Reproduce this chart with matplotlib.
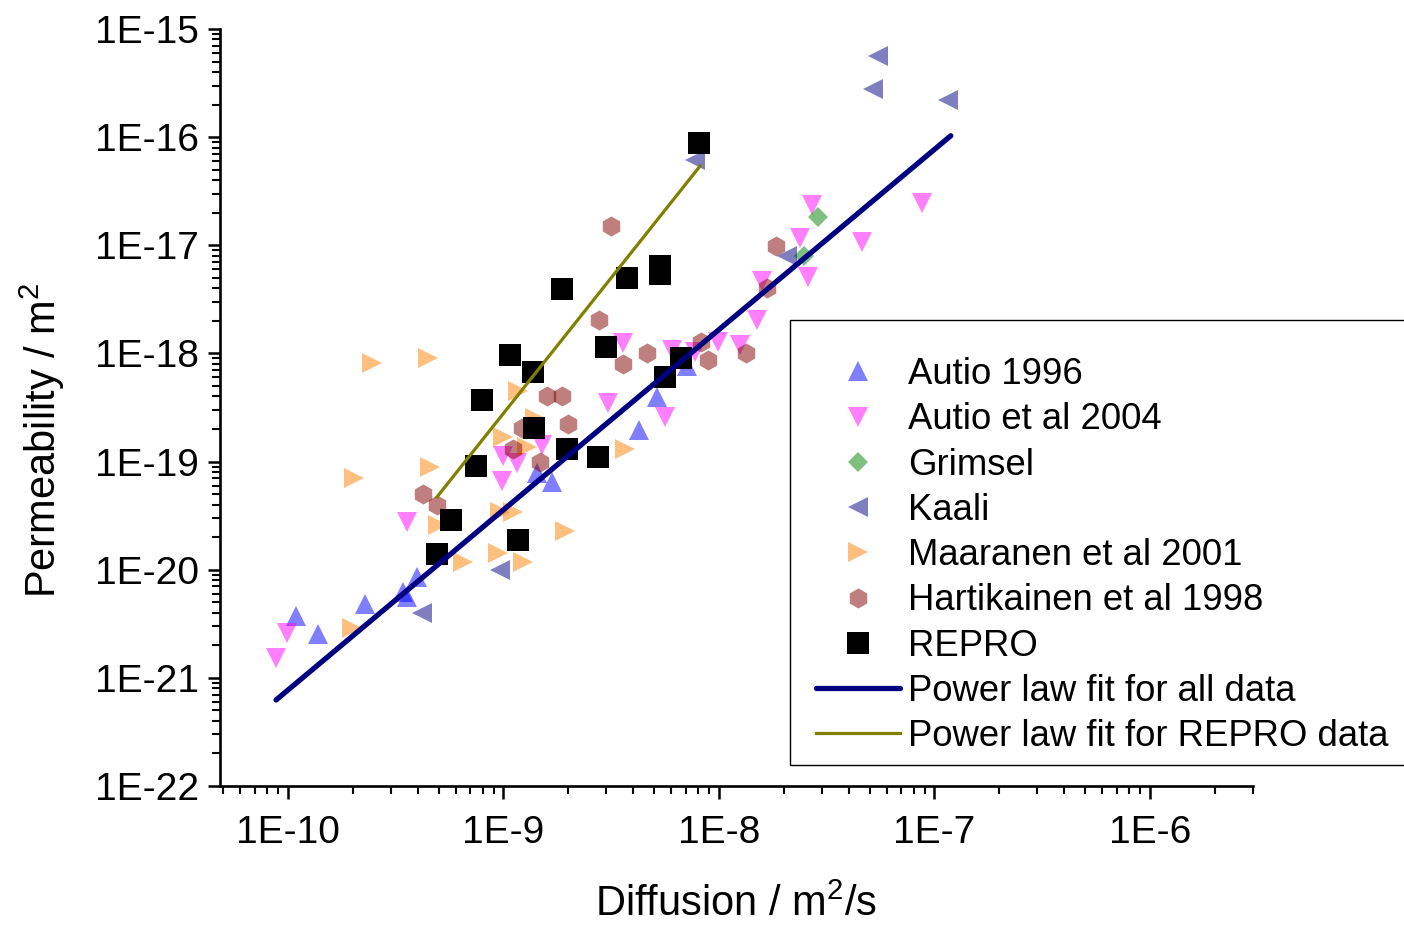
import numpy as np
import matplotlib
matplotlib.use("Agg")
import matplotlib.pyplot as plt
from matplotlib.ticker import FixedLocator, FixedFormatter, NullFormatter
from matplotlib.patches import Rectangle

plt.rcParams['font.family'] = ['Liberation Sans', 'DejaVu Sans']
plt.rcParams['mathtext.fontset'] = 'custom'
plt.rcParams['mathtext.rm'] = 'Liberation Sans'
plt.rcParams['mathtext.it'] = 'Liberation Sans:italic'
plt.rcParams['mathtext.bf'] = 'Liberation Sans:bold'

# ---------------- data ----------------
autio1996_D = [1.09e-10, 1.38e-10, 2.28e-10, 3.42e-10, 3.57e-10, 3.97e-10,
               1.43e-9, 1.68e-9, 4.25e-9, 5.16e-9, 7.11e-9]
autio1996_K = [3.73e-21, 2.54e-21, 4.82e-21, 6.22e-21, 5.60e-21, 8.55e-21,
               7.83e-20, 6.47e-20, 1.96e-19, 3.95e-19, 7.65e-19]

autio2004_D = [8.80e-11, 9.89e-11, 3.57e-10, 9.95e-10, 1.16e-9, 1.51e-9, 9.85e-10,
               3.05e-9, 5.62e-9, 3.59e-9, 6.05e-9, 9.89e-9, 1.25e-8, 1.50e-8,
               1.58e-8, 2.38e-8, 2.59e-8, 2.70e-8, 4.61e-8, 8.75e-8, 7.74e-9]
autio2004_K = [1.52e-21, 2.60e-21, 2.76e-20, 1.12e-19, 9.70e-20, 1.42e-19, 6.61e-20,
               3.48e-19, 2.58e-19, 1.25e-18, 1.08e-18, 1.28e-18, 1.20e-18, 2.04e-18,
               4.68e-18, 1.17e-17, 5.09e-18, 2.36e-17, 1.07e-17, 2.46e-17, 1.03e-18]

grimsel_D = [2.88e-8, 2.48e-8]
grimsel_K = [1.83e-17, 7.96e-18]

kaali_D = [4.19e-10, 9.63e-10, 7.74e-9, 2.07e-8, 5.18e-8, 5.47e-8, 1.16e-7]
kaali_K = [3.98e-21, 9.93e-21, 6.15e-17, 7.96e-18, 2.79e-16, 5.63e-16, 2.20e-16]

maaranen_D = [1.98e-10, 2.02e-10, 2.45e-10, 4.46e-10, 4.56e-10, 4.97e-10, 6.49e-10,
              9.42e-10, 9.63e-10, 1.11e-9, 9.95e-10, 1.17e-9, 1.23e-9, 1.29e-9,
              1.40e-9, 1.93e-9, 3.66e-9]
maaranen_K = [2.89e-21, 7.05e-20, 8.15e-19, 9.08e-19, 8.91e-20, 2.59e-20, 1.18e-20,
              1.43e-20, 3.42e-20, 3.42e-20, 1.69e-19, 4.49e-19, 1.18e-20, 1.36e-19,
              2.53e-19, 2.28e-20, 1.31e-19]

hartikainen_D = [4.23e-10, 4.91e-10, 1.11e-9, 1.22e-9, 1.48e-9, 1.59e-9, 1.87e-9,
                 1.99e-9, 2.77e-9, 3.15e-9, 3.59e-9, 4.63e-9, 8.25e-9, 8.89e-9,
                 1.33e-8, 1.67e-8, 1.84e-8]
hartikainen_K = [5.01e-20, 3.96e-20, 1.31e-19, 2.04e-19, 9.91e-20, 4.04e-19, 4.04e-19,
                 2.22e-19, 2.04e-18, 1.51e-17, 7.98e-19, 1.01e-18, 1.28e-18, 8.69e-19,
                 1.01e-18, 4.03e-18, 9.85e-18]

repro_D = [4.91e-10, 5.71e-10, 7.45e-10, 7.95e-10, 1.07e-9, 1.17e-9, 1.37e-9, 1.39e-9,
           1.87e-9, 1.97e-9, 2.75e-9, 2.99e-9, 3.74e-9, 5.32e-9, 5.32e-9, 5.62e-9,
           6.67e-9, 8.07e-9]
repro_K = [1.40e-20, 2.88e-20, 9.10e-20, 3.71e-19, 9.66e-19, 1.88e-20, 6.73e-19, 2.04e-19,
           3.94e-18, 1.31e-19, 1.10e-19, 1.15e-18, 4.98e-18, 6.43e-18, 5.42e-18, 6.05e-19,
           9.08e-19, 8.83e-17]

fit_all_D = [8.80e-11, 1.19e-7]
fit_all_K = [6.24e-22, 1.03e-16]
fit_repro_D = [4.91e-10, 8.17e-9]
fit_repro_K = [4.70e-20, 5.41e-17]

x_tick_exps = [-10, -9, -8, -7, -6]
y_tick_exps = [-22, -21, -20, -19, -18, -17, -16, -15]

labels = ["Autio 1996", "Autio et al 2004", "Grimsel", "Kaali",
          "Maaranen et al 2001", "Hartikainen et al 1998", "REPRO",
          "Power law fit for all data", "Power law fit for REPRO data"]

# ---------------- figure ----------------
W, H = 1404, 926
fig = plt.figure(figsize=(W / 100, H / 100), dpi=100)
ax = fig.add_axes([220 / W, 1 - 786 / H, (1253 - 220) / W, (786 - 29) / H])

series = [
    (autio1996_D, autio1996_K, '^', '#0000FF', 0.5, 14),
    (autio2004_D, autio2004_K, 'v', '#FF00FF', 0.5, 14),
    (grimsel_D, grimsel_K, 'D', '#008000', 0.5, 10.5),
    (kaali_D, kaali_K, '<', '#000080', 0.5, 14),
    (maaranen_D, maaranen_K, '>', '#FF8000', 0.5, 14),
    (hartikainen_D, hartikainen_K, 'h', '#800000', 0.5, 14.5),
    (repro_D, repro_K, 's', '#000000', 1.0, 15.5),
]
for (xs, ys, m, c, a, ms), lab in zip(series, labels):
    ax.plot(xs, ys, linestyle='none', marker=m, color=c, alpha=a,
            markersize=ms, markeredgewidth=0, label=lab)

ax.plot(fit_all_D, fit_all_K, color='#000080', lw=3.8,
        solid_capstyle='round', label=labels[7], zorder=5)
ax.plot(fit_repro_D, fit_repro_K, color='#808000', lw=2.3,
        label=labels[8], zorder=5)

ax.set_xscale('log')
ax.set_yscale('log')
xlo, xhi = 10 ** (-10 - 68 / 215.5), 10 ** (-6 + 103 / 215.5)
ylo, yhi = 1e-22, 1e-15
ax.set_xlim(xlo, xhi)
ax.set_ylim(ylo, yhi)


def minor_ticks(lo, hi):
    out = []
    for e in range(int(np.floor(np.log10(lo))) - 1, int(np.ceil(np.log10(hi))) + 1):
        for s in range(2, 10):
            v = s * 10.0 ** e
            if lo <= v <= hi:
                out.append(v)
    return out


xt = [10.0 ** e for e in x_tick_exps]
yt = [10.0 ** e for e in y_tick_exps]
ax.xaxis.set_major_locator(FixedLocator(xt))
ax.xaxis.set_major_formatter(FixedFormatter(['1E%d' % e for e in x_tick_exps]))
ax.yaxis.set_major_locator(FixedLocator(yt))
ax.yaxis.set_major_formatter(FixedFormatter(['1E%d' % e for e in y_tick_exps]))
ax.xaxis.set_minor_locator(FixedLocator(minor_ticks(xlo, xhi)))
ax.yaxis.set_minor_locator(FixedLocator(minor_ticks(ylo, yhi)))
ax.xaxis.set_minor_formatter(NullFormatter())
ax.yaxis.set_minor_formatter(NullFormatter())

ax.spines['top'].set_visible(False)
ax.spines['right'].set_visible(False)
ax.spines['left'].set_linewidth(1.9)
ax.spines['bottom'].set_linewidth(1.9)
ax.tick_params(which='major', direction='out', length=9, width=1.8, labelsize=28)
ax.tick_params(axis='x', which='major', pad=12)
ax.tick_params(axis='y', which='major', pad=6)
ax.tick_params(which='minor', direction='out', length=5.5, width=1.5)

fig.text(736 / W, 1 - 916 / H, r'Diffusion / m$^{\mathrm{2}}$/s', fontsize=30,
         ha='center', va='baseline')
fig.text(42 / W, 1 - 440 / H, r'Permeability / m$^{\mathrm{2}}$', fontsize=30,
         ha='center', va='center', rotation=90)

leg = ax.legend(loc='upper left', bbox_to_anchor=(787 / W, 1 - 328 / H),
                bbox_transform=fig.transFigure, fontsize=26.3, frameon=False,
                borderpad=0.8, labelspacing=0.28, handlelength=2.3,
                handletextpad=0.22, borderaxespad=0)

frame = Rectangle((790 / W, 1 - 765 / H), (1420 - 790) / W, (765 - 320) / H,
                  transform=fig.transFigure, fill=False, edgecolor='black',
                  linewidth=1.0, clip_on=False)
fig.add_artist(frame)

fig.savefig('out.png', dpi=100)
